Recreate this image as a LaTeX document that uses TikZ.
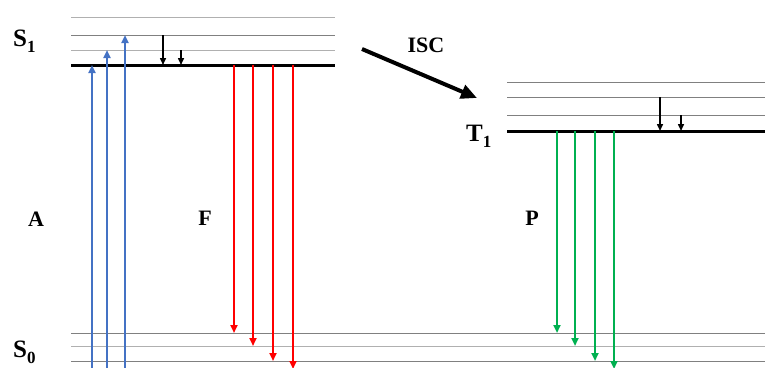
\documentclass[tikz,border=0pt]{standalone}
\usepackage{fontspec}
\setmainfont{Liberation Serif}
\usetikzlibrary{arrows.meta}
\definecolor{blueA}{HTML}{4472C4}
\definecolor{redF}{HTML}{FF0000}
\definecolor{greenP}{HTML}{00B050}
\definecolor{lvlDark}{HTML}{808080}
\definecolor{lvlLight}{HTML}{B0B0B0}
\newcommand{\lvlsub}[1]{\raisebox{-6pt}{\fontsize{17}{17}\selectfont #1}}
\tikzset{
  ground/.style={line width=3pt,black},
  vibdark/.style={line width=1pt,lvlDark},
  viblight/.style={line width=1pt,lvlLight},
  absarrow/.style={line width=2pt,blueA,-{Triangle[length=8pt,width=7pt]}},
  fluarrow/.style={line width=2pt,redF,-{Triangle[length=8pt,width=7pt]}},
  phosarrow/.style={line width=2pt,greenP,-{Triangle[length=8pt,width=7pt]}},
  relarrow/.style={line width=1.5pt,black,-{Triangle[length=7pt,width=6pt]}},
  statelabel/.style={font=\fontsize{25}{28}\selectfont\bfseries,inner sep=0pt,anchor=base west},
  proclabel/.style={font=\fontsize{22}{26}\selectfont\bfseries,inner sep=0pt,anchor=base},
}
\begin{document}
\begin{tikzpicture}[x=1pt,y=-1pt]
\useasboundingbox (0,0) rectangle (765,367);
% S1 levels
\draw[viblight] (71,17) -- (335,17);
\draw[vibdark] (71,35) -- (335,35);
\draw[viblight] (71,50) -- (335,50);
\draw[ground] (71,65) -- (335,65);
% S0 levels
\draw[vibdark] (71,333) -- (765,333);
\draw[viblight] (71,346) -- (765,346);
\draw[vibdark] (71,361) -- (765,361);
% T1 levels
\draw[vibdark] (507,82) -- (765,82);
\draw[vibdark] (507,97) -- (765,97);
\draw[vibdark] (507,115) -- (765,115);
\draw[ground] (507,131) -- (765,131);
% coordinates
\coordinate (a1s) at (92,368); \coordinate (a1e) at (92,65);
\coordinate (a2s) at (107,368); \coordinate (a2e) at (107,50);
\coordinate (a3s) at (125,368); \coordinate (a3e) at (125,35);
\coordinate (r1s) at (163,35); \coordinate (r1e) at (163,65);
\coordinate (r2s) at (181,50); \coordinate (r2e) at (181,65);
\coordinate (f1s) at (234,65); \coordinate (f1e) at (234,333);
\coordinate (f2s) at (253,65); \coordinate (f2e) at (253,346);
\coordinate (f3s) at (273,65); \coordinate (f3e) at (273,361);
\coordinate (f4s) at (293,65); \coordinate (f4e) at (293,369);
\coordinate (t1s) at (660,97); \coordinate (t1e) at (660,131);
\coordinate (t2s) at (681,115); \coordinate (t2e) at (681,131);
\coordinate (p1s) at (557,131); \coordinate (p1e) at (557,333);
\coordinate (p2s) at (575,131); \coordinate (p2e) at (575,346);
\coordinate (p3s) at (595,131); \coordinate (p3e) at (595,361);
\coordinate (p4s) at (614,131); \coordinate (p4e) at (614,369);
\coordinate (iscs) at (362,49); \coordinate (isce) at (477,98);
% arrows
\draw[absarrow] (a1s) -- (a1e);
\draw[absarrow] (a2s) -- (a2e);
\draw[absarrow] (a3s) -- (a3e);
\draw[relarrow] (r1s) -- (r1e);
\draw[relarrow] (r2s) -- (r2e);
\draw[fluarrow] (f1s) -- (f1e);
\draw[fluarrow] (f2s) -- (f2e);
\draw[fluarrow] (f3s) -- (f3e);
\draw[fluarrow] (f4s) -- (f4e);
\draw[relarrow] (t1s) -- (t1e);
\draw[relarrow] (t2s) -- (t2e);
\draw[phosarrow] (p1s) -- (p1e);
\draw[phosarrow] (p2s) -- (p2e);
\draw[phosarrow] (p3s) -- (p3e);
\draw[phosarrow] (p4s) -- (p4e);
\draw[line width=4pt,-{Triangle[length=16pt,width=14pt]}] (iscs) -- (isce);
% labels
\node[statelabel] (lS1) at (13,46) {S\lvlsub{1}};
\node[statelabel] (lS0) at (13,357) {S\lvlsub{0}};
\node[statelabel] (lT1) at (466,141) {T\lvlsub{1}};
\node[proclabel] (lISC) at (426,52) {ISC};
\node[proclabel] (lA) at (36,226) {A};
\node[proclabel] (lF) at (205,225) {F};
\node[proclabel] (lP) at (532,225) {P};
\end{tikzpicture}
\end{document}
